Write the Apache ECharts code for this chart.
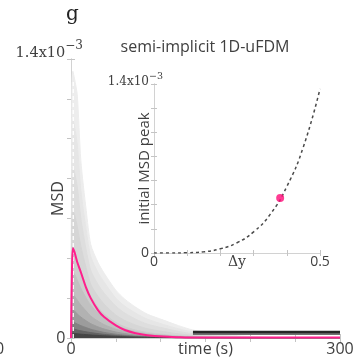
<!DOCTYPE html>
<html><head><meta charset="utf-8">
<script src="https://cdn.jsdelivr.net/npm/echarts@6/dist/echarts.min.js"></script>
<style>html,body{margin:0;padding:0;background:#fff}#c{width:362px;height:364px}</style>
</head><body><div id="c"></div>
<script>
// ---- data (MSD values in units of 1e-3) ----
const timeS = [0, 1, 2, 4, 7, 11, 17, 22, 30, 37, 50, 60, 72, 85, 103, 120, 136, 160, 190, 220, 260, 300];
const gray1  = [0, 1.25, 1.34, 1.30, 1.22, 0.89, 0.64, 0.47, 0.38, 0.325, 0.24, 0.195, 0.155, 0.12, 0.09, 0.062, 0.04, 0.022, 0.01, 0.004, 0.001, 0];
const gray2  = [0, 1.0, 1.10, 1.06, 0.97, 0.74, 0.54, 0.41, 0.33, 0.28, 0.2, 0.16, 0.125, 0.095, 0.068, 0.046, 0.03, 0.016, 0.007, 0.003, 0.001, 0];
const gray3  = [0, 0.78, 0.86, 0.83, 0.76, 0.6, 0.44, 0.34, 0.27, 0.225, 0.16, 0.125, 0.095, 0.07, 0.05, 0.033, 0.021, 0.011, 0.005, 0.002, 0, 0];
const gray4  = [0, 0.56, 0.64, 0.62, 0.56, 0.46, 0.35, 0.27, 0.21, 0.17, 0.115, 0.088, 0.065, 0.047, 0.032, 0.021, 0.013, 0.007, 0.003, 0.001, 0, 0];
const gray5  = [0, 0.34, 0.46, 0.44, 0.39, 0.335, 0.26, 0.21, 0.155, 0.12, 0.078, 0.056, 0.04, 0.028, 0.018, 0.011, 0.007, 0.004, 0.002, 0.001, 0, 0];
const gray6  = [0, 0.24, 0.33, 0.32, 0.29, 0.25, 0.2, 0.165, 0.125, 0.098, 0.064, 0.046, 0.032, 0.022, 0.014, 0.009, 0.006, 0.003, 0.001, 0, 0, 0];
const gray7  = [0, 0.16, 0.22, 0.21, 0.19, 0.165, 0.135, 0.11, 0.085, 0.067, 0.044, 0.032, 0.022, 0.015, 0.01, 0.006, 0.004, 0.002, 0.001, 0, 0, 0];
const gray8  = [0, 0.1, 0.14, 0.135, 0.12, 0.105, 0.086, 0.072, 0.056, 0.045, 0.03, 0.022, 0.015, 0.01, 0.007, 0.004, 0.003, 0.001, 0, 0, 0, 0];
const gray9  = [0, 0.06, 0.08, 0.077, 0.07, 0.062, 0.052, 0.044, 0.035, 0.028, 0.019, 0.014, 0.01, 0.007, 0.005, 0.003, 0.002, 0.001, 0, 0, 0, 0];
const gray10 = [0, 0.034, 0.045, 0.044, 0.04, 0.036, 0.031, 0.027, 0.022, 0.018, 0.013, 0.01, 0.007, 0.005, 0.003, 0.002, 0.001, 0, 0, 0, 0, 0];
const gray11 = [0, 0.017, 0.022, 0.022, 0.021, 0.019, 0.017, 0.015, 0.013, 0.011, 0.008, 0.006, 0.004, 0.003, 0.002, 0.001, 0, 0, 0, 0, 0, 0];
const pinkMSD = [0, 0.32, 0.45, 0.43, 0.38, 0.33, 0.25, 0.2, 0.14, 0.105, 0.063, 0.04, 0.024, 0.014, 0.007, 0.004, 0.002, 0.002, 0.002, 0.002, 0.002, 0.002];
const bandTime = [136, 300];
const bandUpper = [0.03, 0.03];
const bandLower = [0.02, 0.02];
const whiteDashTime = [2.5, 2.5];
const whiteDashMSD = [0, 1.3];
const deltaY  = [0, 0.05, 0.1, 0.15, 0.2, 0.25, 0.3, 0.35, 0.4, 0.45, 0.5];
const peakMSD = [0, 0, 0.002, 0.01, 0.035, 0.085, 0.175, 0.32, 0.55, 0.88, 1.36];
const markerDeltaY = [0.38];
const markerPeak = [0.456];
const mainXTickLabels = ['0', '300'];
const insetXTickLabels = ['0', '0.5'];
const yTopBase = '1.4x10';
const yTopExp = '\u22123';

const grayCurves = [gray1, gray2, gray3, gray4, gray5, gray6, gray7, gray8, gray9, gray10, gray11];
const grayColors = ['#ededed', '#e6e6e6', '#dedede', '#d6d6d6', '#cdcdcd', '#c1c1c1', '#b2b2b2', '#9c9c9c', '#828282', '#646464', '#454545'];

const TXT = '#404040';
const AX = '#d2d2d2';
const SANS = 'Open Sans';
const SERIF = 'DejaVu Serif';
const pair = (xs, ys) => xs.map((x, i) => [x, ys[i]]);
const near = (a, b) => Math.abs(a - b) < 1e-9;

const series = [];
grayCurves.forEach((arr, i) => {
  series.push({
    type: 'line', xAxisIndex: 0, yAxisIndex: 0, data: pair(timeS, arr),
    showSymbol: false, smooth: 0.25, silent: true,
    lineStyle: { color: grayColors[i], width: 1 },
    areaStyle: { color: grayColors[i], opacity: 1 }, z: 2
  });
});
series.push({ type: 'line', xAxisIndex: 0, yAxisIndex: 0, data: pair(bandTime, bandLower), showSymbol: false, lineStyle: { color: '#707070', width: 2 }, z: 3 });
series.push({ type: 'line', xAxisIndex: 0, yAxisIndex: 0, data: pair(bandTime, bandUpper), showSymbol: false, lineStyle: { color: '#262626', width: 2.5 }, z: 3 });
series.push({ type: 'line', xAxisIndex: 0, yAxisIndex: 0, data: pair(whiteDashTime, whiteDashMSD), showSymbol: false, lineStyle: { color: '#ffffff', width: 1.3, type: [4, 3] }, z: 3 });
series.push({ type: 'line', xAxisIndex: 0, yAxisIndex: 0, data: pair(timeS, pinkMSD), showSymbol: false, smooth: 0.25, lineStyle: { color: '#ff1f8c', width: 2 }, z: 4 });
series.push({ type: 'line', xAxisIndex: 2, yAxisIndex: 2, data: pair(deltaY, peakMSD), showSymbol: false, smooth: true, lineStyle: { color: '#4a4a4a', width: 1.5, type: [3, 3] }, z: 5 });
series.push({ type: 'scatter', xAxisIndex: 2, yAxisIndex: 2, data: pair(markerDeltaY, markerPeak), symbolSize: 8, itemStyle: { color: '#ff0a78' }, z: 6 });

const tickStyle = (len) => ({ show: true, inside: true, length: len, lineStyle: { color: '#c4c4c4' } });
const lineStyle = { show: true, lineStyle: { color: AX, width: 1 } };

const mainYRich = {
  a1: { fontFamily: SERIF, fontSize: 14.5, color: TXT, padding: [0, 0, 12, 0], verticalAlign: 'middle' },
  b: { fontFamily: SERIF, fontSize: 12, color: TXT, padding: [0, 0, 26, 0], verticalAlign: 'middle' },
  s: { fontFamily: SERIF, fontSize: 12, color: 'rgba(0,0,0,0)', verticalAlign: 'middle' },
  z: { fontFamily: SANS, fontSize: 16, color: TXT, verticalAlign: 'middle' }
};
const insetYRich = {
  a1: { fontFamily: SERIF, fontSize: 12, color: TXT, padding: [0, 0, 4, 0], verticalAlign: 'middle' },
  b: { fontFamily: SERIF, fontSize: 9.5, color: TXT, padding: [0, 0, 14, 0], verticalAlign: 'middle' },
  s: { fontFamily: SERIF, fontSize: 9.5, color: 'rgba(0,0,0,0)', verticalAlign: 'middle' },
  z: { fontFamily: SANS, fontSize: 14, color: TXT, verticalAlign: 'middle' }
};

const option = {
  animation: false,
  backgroundColor: '#fff',
  title: [
    { text: 'semi-implicit 1D-uFDM', left: 205, top: 39, padding: 0, textAlign: 'center',
      textStyle: { fontFamily: SANS, fontSize: 16, fontWeight: 'normal', color: TXT } },
    { text: 'g', left: 66, top: 5, padding: 0,
      textStyle: { fontFamily: SERIF, fontSize: 20, fontWeight: 'normal', color: '#222' } }
  ],
  graphic: [
    { type: 'text', left: -5, top: 341, silent: true, style: { text: '0', fontFamily: SANS, fontSize: 16, fill: TXT } }
  ],
  grid: [
    { left: 71, right: 22, top: 59, bottom: 26, outerBoundsMode: 'none', containLabel: false },
    { left: 154, right: 42, top: 84, bottom: 111, outerBoundsMode: 'none', containLabel: false }
  ],
  xAxis: [
    { gridIndex: 0, type: 'value', min: 0, max: 300, interval: 50, position: 'bottom',
      axisLine: lineStyle, axisTick: tickStyle(4), splitLine: { show: false },
      axisLabel: { margin: 3, fontFamily: SANS, fontSize: 16, color: TXT,
        formatter: v => (v === 0 ? mainXTickLabels[0] : v === 300 ? mainXTickLabels[1] : '') },
      name: 'time (s)', nameLocation: 'middle', nameGap: 3, nameMoveOverlap: false,
      nameTextStyle: { fontFamily: SANS, fontSize: 16, color: TXT } },
    { gridIndex: 0, type: 'value', min: 0, max: 300, interval: 50, position: 'top',
      axisLine: lineStyle, axisTick: tickStyle(4), splitLine: { show: false }, axisLabel: { show: false } },
    { gridIndex: 1, type: 'value', min: 0, max: 0.5, interval: 0.1, position: 'bottom',
      axisLine: lineStyle, axisTick: tickStyle(3), splitLine: { show: false },
      axisLabel: { margin: 2, fontFamily: SANS, fontSize: 14, color: TXT,
        formatter: v => (near(v, 0) ? insetXTickLabels[0] : near(v, 0.5) ? insetXTickLabels[1] : '') },
      name: '\u0394y', nameLocation: 'middle', nameGap: 2, nameMoveOverlap: false,
      nameTextStyle: { fontFamily: SERIF, fontSize: 14, color: TXT } },
    { gridIndex: 1, type: 'value', min: 0, max: 0.5, interval: 0.1, position: 'top',
      axisLine: lineStyle, axisTick: tickStyle(3), splitLine: { show: false }, axisLabel: { show: false } }
  ],
  yAxis: [
    { gridIndex: 0, type: 'value', min: 0, max: 1.4, interval: 0.2, position: 'left',
      axisLine: lineStyle, axisTick: tickStyle(4), splitLine: { show: false },
      axisLabel: { margin: -12, rich: mainYRich,
        formatter: v => (near(v, 0) ? '{z|0}{s|' + yTopExp + '}' : near(v, 1.4) ? '{a1|' + yTopBase + '}{b|' + yTopExp + '}' : '') },
      name: 'MSD', nameLocation: 'middle', nameGap: 5, nameMoveOverlap: false,
      nameTextStyle: { fontFamily: SANS, fontSize: 16, color: TXT } },
    { gridIndex: 0, type: 'value', min: 0, max: 1.4, interval: 0.2, position: 'right',
      axisLine: lineStyle, axisTick: tickStyle(4), splitLine: { show: false }, axisLabel: { show: false } },
    { gridIndex: 1, type: 'value', min: 0, max: 1.4, interval: 0.2, position: 'left',
      axisLine: lineStyle, axisTick: tickStyle(3), splitLine: { show: false },
      axisLabel: { margin: -9, rich: insetYRich,
        formatter: v => (near(v, 0) ? '{z|0}{s|' + yTopExp + '}' : near(v, 1.4) ? '{a1|' + yTopBase + '}{b|' + yTopExp + '}' : '') },
      name: 'initial MSD peak', nameLocation: 'middle', nameGap: 2, nameMoveOverlap: false,
      nameTextStyle: { fontFamily: SANS, fontSize: 15, color: TXT } },
    { gridIndex: 1, type: 'value', min: 0, max: 1.4, interval: 0.2, position: 'right',
      axisLine: lineStyle, axisTick: tickStyle(3), splitLine: { show: false }, axisLabel: { show: false } }
  ],
  series: series
};
const chart = echarts.init(document.getElementById('c'), null, { renderer: 'canvas' });
chart.setOption(option);
</script></body></html>
